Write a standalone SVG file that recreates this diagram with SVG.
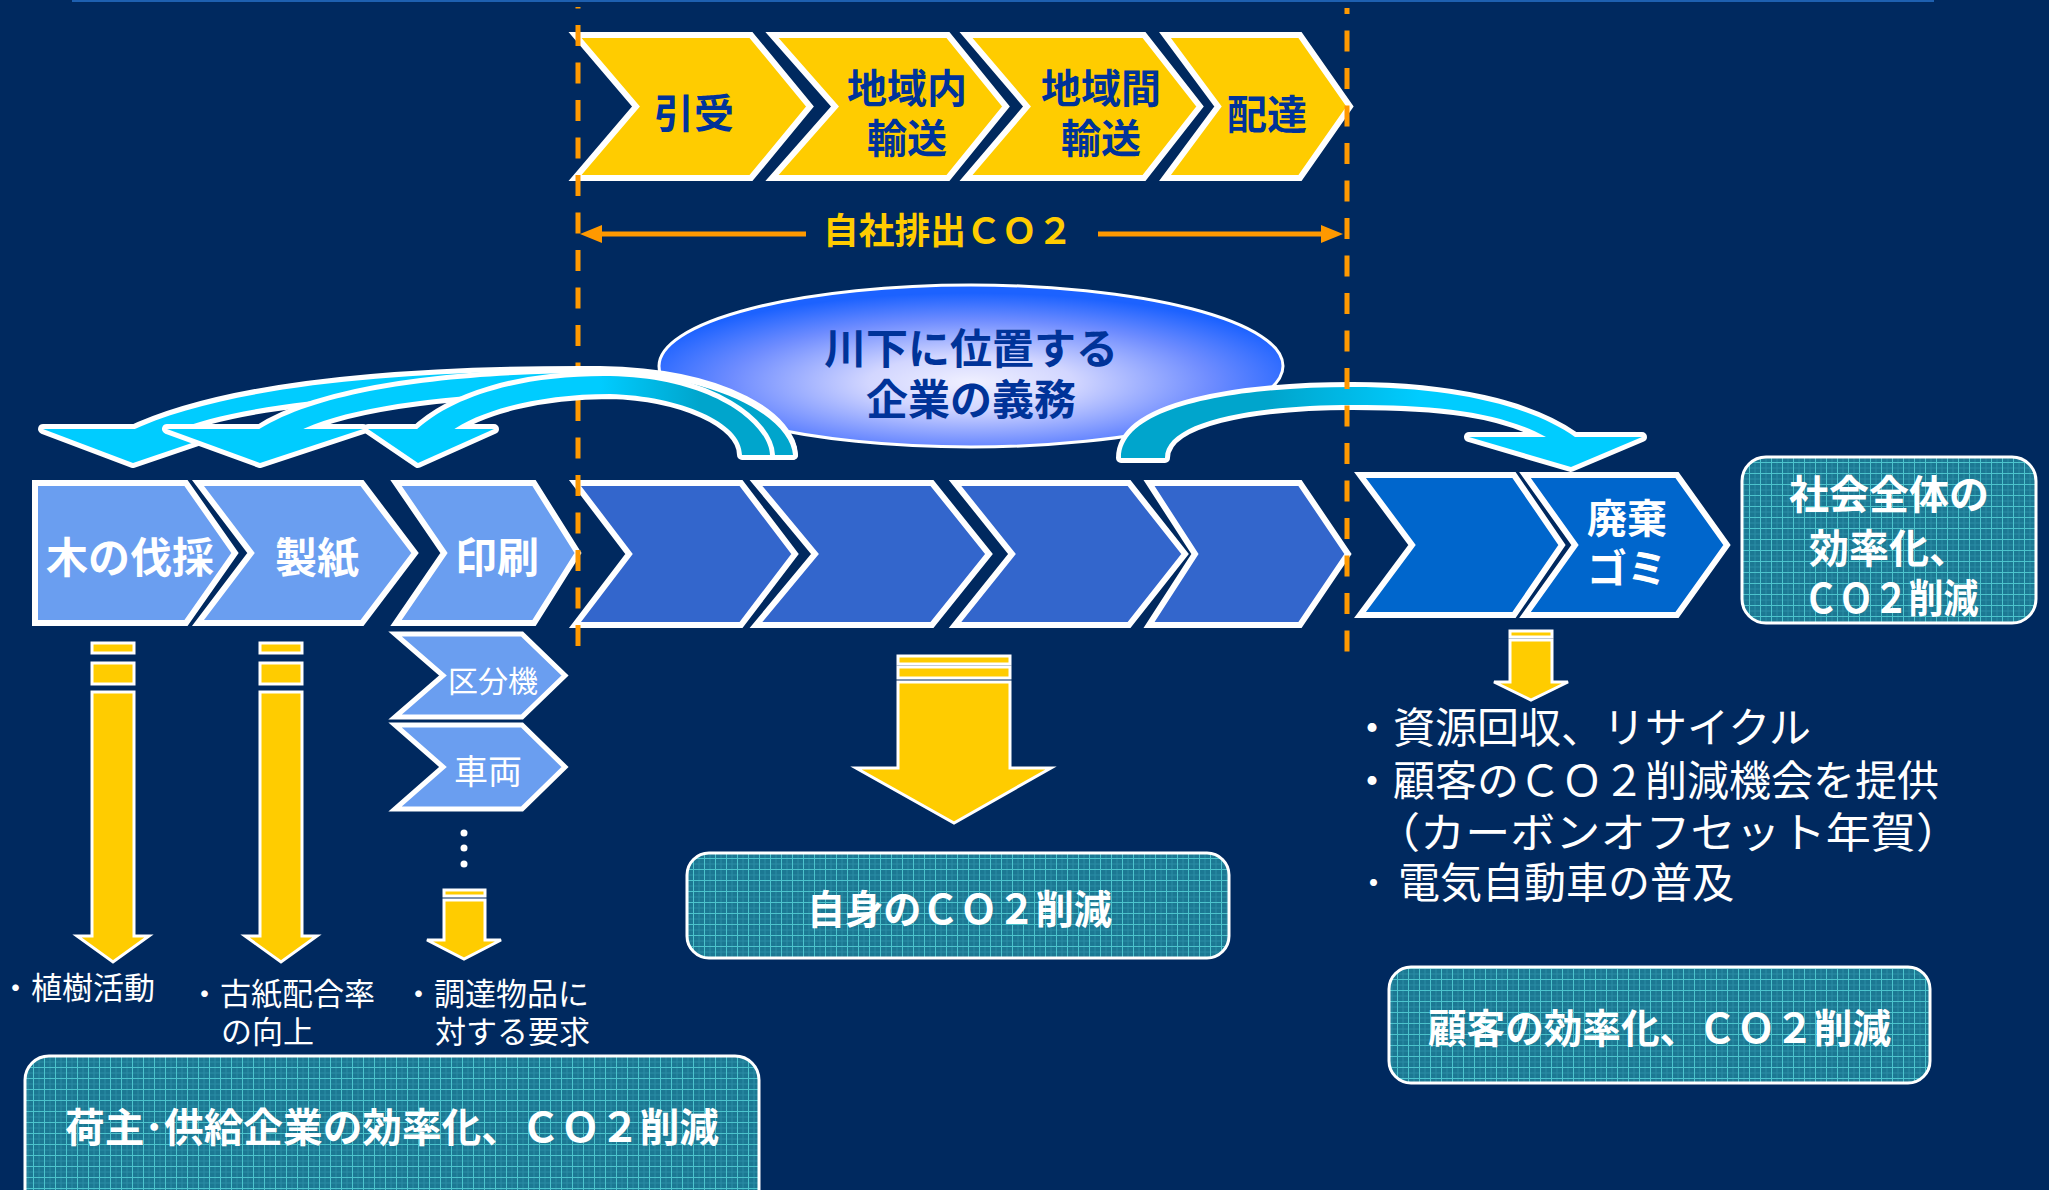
<svg xmlns="http://www.w3.org/2000/svg" width="2049" height="1190" viewBox="0 0 2049 1190">
<defs>
<style>
.t{font-family:"Noto Sans CJK JP","Noto Sans CJK SC",sans-serif;}
.b{font-weight:700;}
.w{fill:#FFFFFF;}
.nv{fill:#003399;}
.mid{text-anchor:middle;}
.ych{fill:#FFCC00;stroke:#FFFFFF;stroke-width:6;stroke-linejoin:miter;}
.dch{fill:#3366CC;stroke:#FFFFFF;stroke-width:6;}
.lch{fill:#6A9EF0;stroke:#FFFFFF;stroke-width:6;}
.rch{fill:#0066CC;stroke:#FFFFFF;stroke-width:6;}
.sch{fill:#6A9EF0;stroke:#FFFFFF;stroke-width:5;}
.yar{fill:#FFCC00;stroke:#FFFFFF;stroke-width:3;}
.box{fill:url(#grid);stroke:#FFFFFF;stroke-width:3;}
.dash{stroke:#FF9900;stroke-width:5;stroke-dasharray:21 16.5;fill:none;}
.wo{fill:#FFFFFF;stroke:#FFFFFF;stroke-width:10;stroke-linejoin:round;}
</style>
<pattern id="grid" width="11" height="11" patternUnits="userSpaceOnUse">
<rect width="11" height="11" fill="#1C7893"/>
<path d="M0 6H11M6 0V11" stroke="#2A8DA6" stroke-width="1"/>
<path d="M0 0.5H11M0.5 0V11" stroke="#4CC3CC" stroke-width="1"/>
</pattern>
<radialGradient id="ell" cx="0.5" cy="0.6" r="0.55">
<stop offset="0" stop-color="#F0F0FF"/>
<stop offset="0.3" stop-color="#D2D6FF"/>
<stop offset="0.7" stop-color="#6E8CFF"/>
<stop offset="1" stop-color="#1C62FF"/>
</radialGradient>
<linearGradient id="lg" gradientUnits="userSpaceOnUse" x1="600" y1="0" x2="700" y2="0">
<stop offset="0" stop-color="#00CCFF"/>
<stop offset="1" stop-color="#00A5CC"/>
</linearGradient>
<linearGradient id="rg" gradientUnits="userSpaceOnUse" x1="1270" y1="0" x2="1420" y2="0">
<stop offset="0" stop-color="#00A5CC"/>
<stop offset="1" stop-color="#00CCFF"/>
</linearGradient>
<marker id="oh" markerUnits="userSpaceOnUse" markerWidth="22" markerHeight="20" viewBox="0 0 22 20" refX="14" refY="10" orient="auto">
<path d="M0,1 L22,10 L0,19 z" fill="#FF9900"/>
</marker>
</defs>
<rect width="2049" height="1190" fill="#00295F"/>
<rect x="72" y="0" width="1862" height="2" fill="#1E60B0"/>

<g id="ellipse-duty">
<ellipse cx="971" cy="366" rx="312" ry="81" fill="url(#ell)" stroke="#FFFFFF" stroke-width="3"/>
<text class="t b nv mid" font-size="42"><tspan x="971" y="364">川下に位置する</tspan><tspan x="971" y="415">企業の義務</tspan></text>
</g>

<g id="top-chevrons">
<g id="n-hikiuke"><polygon class="ych" points="575,35 751,35 810,106.5 751,178 575,178 636,106.5"/>
<text class="t b nv mid" x="694" y="128" font-size="40">引受</text></g>
<g id="n-chiikinai"><polygon class="ych" points="772,35 948,35 1006,106.5 948,178 772,178 835,106.5"/>
<text class="t b nv mid" font-size="40"><tspan x="907" y="103">地域内</tspan><tspan x="907" y="153">輸送</tspan></text></g>
<g id="n-chiikikan"><polygon class="ych" points="966,35 1144,35 1200,106.5 1144,178 966,178 1027,106.5"/>
<text class="t b nv mid" font-size="40"><tspan x="1101" y="103">地域間</tspan><tspan x="1101" y="153">輸送</tspan></text></g>
<g id="n-haitatsu"><polygon class="ych" points="1165,35 1300,35 1350,106.5 1300,178 1165,178 1218,106.5"/>
<text class="t b nv mid" x="1267" y="129" font-size="40">配達</text></g>
</g>

<g id="left-chevrons">
<g id="n-bassai"><polygon class="lch" points="35,483 186,483 235,553 186,623 35,623"/>
<text class="t b w mid" x="130" y="573" font-size="42">木の伐採</text></g>
<g id="n-seishi"><polygon class="lch" points="198,483 362,483 415,553 362,623 198,623 251,553"/>
<text class="t b w mid" x="317" y="573" font-size="42">製紙</text></g>
<g id="n-insatsu"><polygon class="lch" points="396,483 534,483 578,553 534,623 396,623 444,553"/>
<text class="t b w mid" x="497" y="573" font-size="42">印刷</text></g>
</g>

<g id="mid-chevrons">
<polygon id="n-m1" class="dch" points="575,483 741,483 795,554 741,625 575,625 629,554"/>
<polygon id="n-m2" class="dch" points="756,483 932,483 989,554 932,625 756,625 815,554"/>
<polygon id="n-m3" class="dch" points="955,483 1129,483 1185,554 1129,625 955,625 1012,554"/>
<polygon id="n-m4" class="dch" points="1149,483 1300,483 1348,554 1300,625 1149,625 1195,554"/>
</g>

<g id="right-chevrons">
<polygon id="n-r1" class="rch" points="1360,475 1514,475 1562,545 1514,615 1360,615 1412,545"/>
<g id="n-haiki"><polygon class="rch" points="1525,475 1677,475 1727,545 1677,615 1525,615 1575,545"/>
<text class="t b w mid" font-size="40"><tspan x="1627" y="533">廃棄</tspan><tspan x="1627" y="583">ゴミ</tspan></text></g>
</g>

<g id="small-chevrons">
<g id="n-kubunki"><polygon class="sch" points="395,634 522,634 565,675.5 522,717 395,717 443,675.5"/>
<text class="t w mid" x="493" y="692" font-size="30">区分機</text></g>
<g id="n-sharyo"><polygon class="sch" points="395,725 522,725 565,767 522,809 395,809 443,767"/>
<text class="t w mid" x="488" y="784" font-size="34">車両</text></g>
<g id="dots" fill="#FFFFFF"><circle cx="464" cy="833" r="3.5"/><circle cx="464" cy="848" r="3.5"/><circle cx="464" cy="864" r="3.5"/></g>
</g>

<g id="connectors">
<g id="right-arc">
<path class="wo" d="M1121 458 C1121 405,1240 387,1353 387 C1450 387,1530 405,1575 437 L1546 437 C1500 412,1440 405,1353 405 C1250 405,1165 422,1165 458 Z"/>
<polygon class="wo" points="1469,437 1642,437 1571,467"/>
<path fill="url(#rg)" d="M1121 458 C1121 405,1240 387,1353 387 C1450 387,1530 405,1575 437 L1546 437 C1500 412,1440 405,1353 405 C1250 405,1165 422,1165 458 Z"/>
<polygon fill="#00CCFF" points="1469,437 1642,437 1571,467"/>
</g>

<g id="dashed-lines">
<line class="dash" x1="578" y1="7" x2="578" y2="657" stroke-dashoffset="19.5"/>
<line class="dash" x1="1347" y1="8" x2="1347" y2="657" stroke-dashoffset="15"/>
</g>

<g id="own-co2-span">
<line x1="806" y1="234" x2="588" y2="234" stroke="#FF9900" stroke-width="5" marker-end="url(#oh)"/>
<line x1="1098" y1="234" x2="1335" y2="234" stroke="#FF9900" stroke-width="5" marker-end="url(#oh)"/>
<text class="t b mid" x="948" y="244" font-size="36" fill="#FFCC00" textLength="250" lengthAdjust="spacingAndGlyphs">自社排出ＣＯ２</text>
</g>

<g id="left-arc">
<g id="arc-b1">
<path class="wo" d="M793 455 C792 420,730 373,600 371 C420 370,230 383,128 432 L172 432 C250 398,420 389,600 389 C700 391,765 418,765 455 Z"/>
<polygon class="wo" points="43,429 233,429 133,463"/>
<path fill="url(#lg)" d="M793 455 C792 420,730 373,600 371 C420 370,230 383,128 432 L172 432 C250 398,420 389,600 389 C700 391,765 418,765 455 Z"/>
<polygon fill="#00CCFF" points="43,429 233,429 133,463"/>
</g>
<g id="arc-b2">
<path class="wo" d="M793 455 C791 422,728 375,600 373 C460 373,320 388,255 432 L297 432 C350 404,470 391,600 391 C695 393,765 420,765 455 Z"/>
<polygon class="wo" points="167,429 363,429 260,463"/>
<path fill="url(#lg)" d="M793 455 C791 422,728 375,600 373 C460 373,320 388,255 432 L297 432 C350 404,470 391,600 391 C695 393,765 420,765 455 Z"/>
<polygon fill="#00CCFF" points="167,429 363,429 260,463"/>
</g>
<g id="arc-b3">
<path class="wo" d="M770 455 C769 425,715 378,610 376 C520 375,450 397,414 432 L450 432 C480 410,540 394,610 394 C680 396,742 422,742 455 Z"/>
<polygon class="wo" points="368,429 494,429 418,463"/>
<path fill="url(#lg)" d="M770 455 C769 425,715 378,610 376 C520 375,450 397,414 432 L450 432 C480 410,540 394,610 394 C680 396,742 422,742 455 Z"/>
<polygon fill="#00CCFF" points="368,429 494,429 418,463"/>
</g>
</g>

<g id="yellow-arrows">
<g id="ya-1"><rect class="yar" x="92" y="643" width="42" height="10"/><rect class="yar" x="92" y="663" width="42" height="21"/>
<polygon class="yar" points="92,692 134,692 134,936 149,936 113,962 77,936 92,936"/></g>
<g id="ya-2"><rect class="yar" x="260" y="643" width="42" height="10"/><rect class="yar" x="260" y="663" width="42" height="21"/>
<polygon class="yar" points="260,692 302,692 302,936 317,936 281,962 245,936 260,936"/></g>
<g id="ya-3"><rect class="yar" x="444" y="890" width="41" height="6"/>
<polygon class="yar" points="444,900 485,900 485,940 501,940 464,959 427,940 444,940"/></g>
<g id="ya-mid"><rect class="yar" x="898" y="656" width="112" height="8"/><rect class="yar" x="898" y="667" width="112" height="11"/>
<polygon class="yar" points="898,682 1010,682 1010,768 1051,768 954,823 856,768 898,768"/></g>
<g id="ya-right"><rect class="yar" x="1510" y="631" width="42" height="6"/>
<polygon class="yar" points="1510,640 1552,640 1552,682 1568,682 1531,700 1494,682 1510,682"/></g>
</g>
</g>

<g id="n-society">
<rect class="box" x="1742" y="457" width="294" height="166" rx="24"/>
<text class="t b w mid" font-size="40"><tspan x="1889" y="509">社会全体の</tspan><tspan x="1889" y="563">効率化、</tspan><tspan x="1891" y="613" textLength="175" lengthAdjust="spacingAndGlyphs">ＣＯ２削減</tspan></text>
</g>

<g id="n-self">
<rect class="box" x="687" y="853" width="542" height="105" rx="22"/>
<text class="t b w" x="807" y="924" font-size="40" textLength="305" lengthAdjust="spacingAndGlyphs">自身のＣＯ２削減</text>
</g>

<g id="n-customer">
<rect class="box" x="1389" y="967" width="541" height="116" rx="22"/>
<text class="t b w" x="1428" y="1043" font-size="40" textLength="463" lengthAdjust="spacingAndGlyphs">顧客の効率化、ＣＯ２削減</text>
</g>

<g id="n-shipper">
<rect class="box" x="25" y="1056" width="734" height="160" rx="24"/>
<text class="t b w" x="65" y="1142" font-size="40" textLength="654" lengthAdjust="spacingAndGlyphs">荷主･供給企業の効率化、ＣＯ２削減</text>
</g>

<g id="notes-left" class="t w" font-size="31">
<text x="0" y="999">・植樹活動</text>
<text><tspan x="189" y="1005">・古紙配合率</tspan><tspan x="221" y="1043">の向上</tspan></text>
<text><tspan x="403" y="1005">・調達物品に</tspan><tspan x="435" y="1043">対する要求</tspan></text>
</g>

<g id="notes-right" class="t w" font-size="42">
<text><tspan x="1351" y="743">・資源回収、リサイクル</tspan><tspan x="1351" y="796">・顧客のＣＯ２削減機会を提供</tspan><tspan x="1375" y="848" textLength="586" lengthAdjust="spacingAndGlyphs">（カーボンオフセット年賀）</tspan><tspan x="1363" y="898">･</tspan><tspan x="1398" y="898">電気自動車の普及</tspan></text>
</g>
</svg>
